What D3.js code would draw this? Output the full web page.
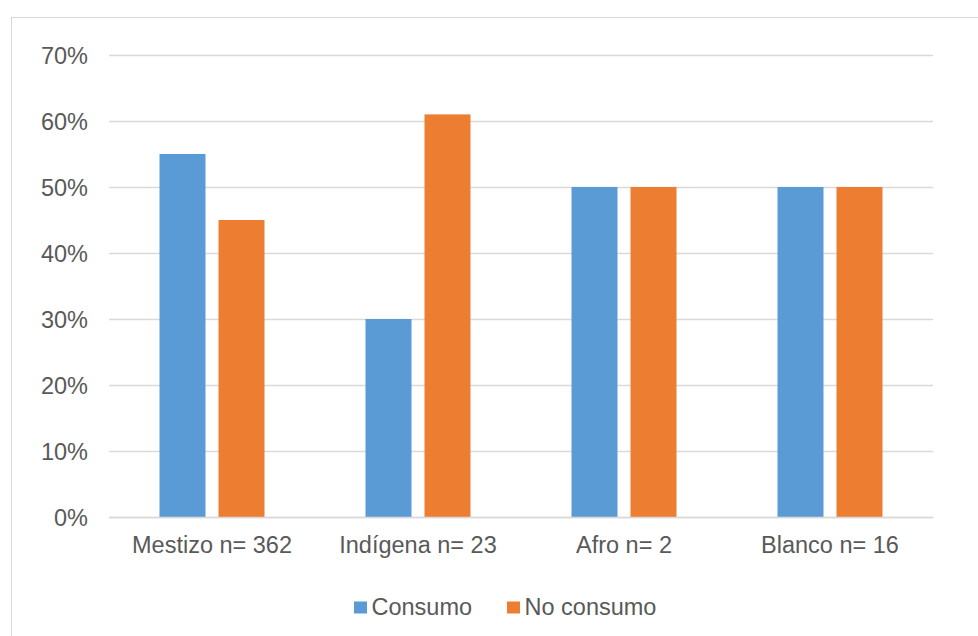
<!DOCTYPE html>
<html>
<head>
<meta charset="utf-8">
<script src="https://cdn.jsdelivr.net/npm/d3@7"></script>
<style>
  html, body { margin: 0; padding: 0; background: #fff; }
  svg { display: block; }
  text { font-family: "Liberation Sans", Arial, sans-serif; fill: #595959; }
</style>
</head>
<body>
<svg id="chart" width="978" height="636"></svg>
<script>
// Categories and series values (share of respondents)
const categories = ["Mestizo n= 362", "Indígena n= 23", "Afro n= 2", "Blanco n= 16"];
const seriesNames = ["Consumo", "No consumo"];
const consumo = [0.55, 0.30, 0.50, 0.50];
const noConsumo = [0.45, 0.61, 0.50, 0.50];
const yTicks = [0, 0.1, 0.2, 0.3, 0.4, 0.5, 0.6, 0.7];
const colors = ["#5B9BD5", "#ED7D31"];

const svg = d3.select("#chart");

// Outer chart frame
svg.append("rect")
  .attr("x", 11.5).attr("y", 17.5)
  .attr("width", 978).attr("height", 640)
  .attr("fill", "#fff").attr("stroke", "#D9D9D9").attr("stroke-width", 1);

const plot = { left: 109, right: 933, top: 55, bottom: 517 };

const x = d3.scaleBand()
  .domain(categories)
  .range([plot.left, plot.right])
  .paddingInner(0).paddingOuter(0);

const xs = d3.scaleBand()
  .domain(seriesNames)
  .range([0, x.bandwidth()])
  .paddingInner(13 / 59)
  .paddingOuter(50.5 / 59);

const y = d3.scaleLinear()
  .domain([0, 0.7])
  .range([plot.bottom, plot.top]);

// Horizontal gridlines
const yAxis = d3.axisLeft(y)
  .tickValues(yTicks)
  .tickSize(-(plot.right - plot.left))
  .tickPadding(21)
  .tickFormat(d3.format(".0%"));

const gy = svg.append("g")
  .attr("transform", `translate(${plot.left},0)`)
  .call(yAxis);
gy.select(".domain").remove();
gy.selectAll(".tick line").attr("stroke", "#D9D9D9").attr("stroke-width", 1.5);
gy.selectAll(".tick text")
  .attr("font-size", "23.5px")
  .attr("fill", "#595959")
  .attr("dy", "0.34em");

// Bars
const rows = categories.map((c, i) => ({ cat: c, values: [consumo[i], noConsumo[i]] }));

const groups = svg.append("g").selectAll("g")
  .data(rows)
  .join("g")
  .attr("transform", d => `translate(${x(d.cat)},0)`);

groups.selectAll("rect")
  .data(d => d.values.map((v, j) => ({ name: seriesNames[j], value: v, j })))
  .join("rect")
  .attr("x", d => xs(d.name))
  .attr("y", d => y(d.value))
  .attr("width", xs.bandwidth())
  .attr("height", d => y(0) - y(d.value))
  .attr("fill", d => colors[d.j]);

// Category axis
const xAxis = d3.axisBottom(x).tickSize(0).tickPadding(27);
const gx = svg.append("g")
  .attr("transform", `translate(0,${plot.bottom})`)
  .call(xAxis);
gx.select(".domain").attr("stroke", "#D9D9D9").attr("stroke-width", 1.5);
gx.selectAll(".tick text")
  .attr("font-size", "23.5px")
  .attr("fill", "#595959")
  .attr("dy", "0")
  .attr("y", 36);

// Legend
const legendItems = [
  { name: seriesNames[0], color: colors[0], sx: 354, tx: 371.5 },
  { name: seriesNames[1], color: colors[1], sx: 507, tx: 524.5 }
];
const legend = svg.append("g");
legend.selectAll("rect")
  .data(legendItems)
  .join("rect")
  .attr("x", d => d.sx).attr("y", 601.5)
  .attr("width", 13).attr("height", 12)
  .attr("fill", d => d.color);
legend.selectAll("text")
  .data(legendItems)
  .join("text")
  .attr("x", d => d.tx).attr("y", 615)
  .attr("font-size", "23.5px")
  .text(d => d.name);
</script>
</body>
</html>
